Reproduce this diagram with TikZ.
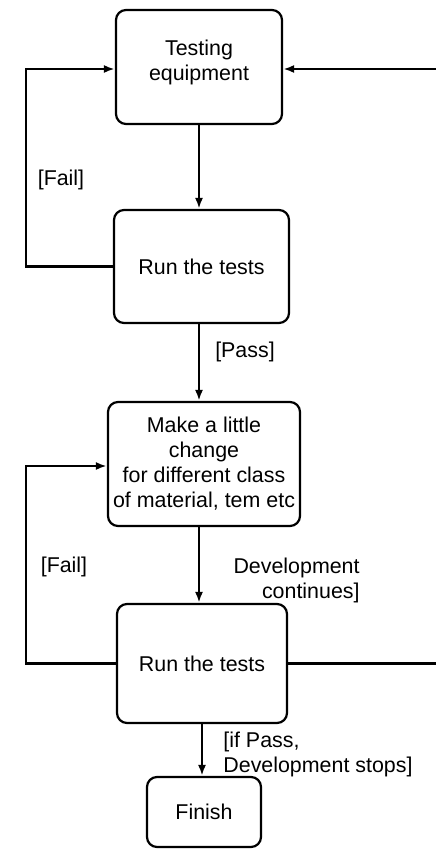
\documentclass[tikz,border=0pt]{standalone}
\usepackage{fontspec}
\setmainfont{Liberation Sans}
\usetikzlibrary{arrows.meta}

\tikzset{
	stepbox/.style={draw, line width=1.1pt, rounded corners=5pt, align=center, inner sep=2pt},
	flow/.style={line width=1.1pt, -{Latex[length=5.5pt,width=4pt]}},
	lbl/.style={inner sep=0pt}
}

\begin{document}
\begin{tikzpicture}[x=0.5pt, y=-0.5pt, font=\fontsize{10.7}{12.5}\selectfont]
			%%%%% START %%%%%
			
			\useasboundingbox (0, 0) rectangle (435, 851);
			
			\node[stepbox, minimum width=83pt, minimum height=57pt] (test) at (199, 67) {Testing\\equipment\\[-5.5pt]};
			\node[stepbox, minimum width=87.5pt, minimum height=56.5pt] (run1) at (201.5, 266.5) {Run the tests};
			\node[stepbox, minimum width=96pt, minimum height=62pt] (make) at (204, 464) {Make a little\\change\\for different class\\of material, tem etc};
			\node[stepbox, minimum width=85pt, minimum height=59.5pt] (run2) at (202, 663.5) {Run the tests};
			\node[stepbox, minimum width=57pt, minimum height=35pt] (finish) at (204, 812) {Finish};
			
			\coordinate (lft) at (26, 0);
			\coordinate (rgt) at (450, 0);
			
			\draw[flow] (test.south) -- (test.south |- run1.north);
			\draw[flow] (run1.south -| test.south) -- (make.north -| test.south);
			\draw[flow] (make.south -| test.south) -- (run2.north -| test.south);
			\draw[flow] (run2.south) -- (run2.south |- finish.north);
			
			\draw[flow] (run1.west) -- (run1.west -| lft) |- ([yshift=-1pt]test.west);
			\draw[flow] (run2.east) -- (run2.east -| rgt) |- ([yshift=-1pt]test.east);
			\draw[flow] (run2.west) -- (run2.west -| lft) |- ([yshift=-1pt]make.west);
			
			\node[lbl] (fail1) at (61, 180) {[Fail]};
			\node[lbl] (pass) at (245, 352) {[Pass]};
			\node[lbl] (fail2) at (64, 567) {[Fail]};
			\node[lbl, align=right, anchor=north east] (cont) at (360, 558) {Development\\continues]};
			\node[lbl, align=left, anchor=north west] (stops) at (223, 732) {[if Pass,\\Development stops]};
			
			%%%%% END %%%%%
\end{tikzpicture}
\end{document}
